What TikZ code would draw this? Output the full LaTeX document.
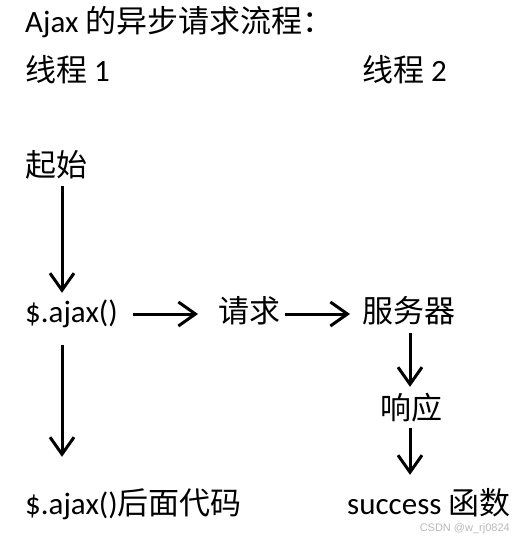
\documentclass[tikz,border=0pt]{standalone}
\usepackage{fontspec}
\setmainfont{Carlito}
\newfontfamily\cjk{Noto Sans CJK SC}
\newfontfamily\wm{Liberation Sans}
\usetikzlibrary{arrows.meta}
\begin{document}
\begin{tikzpicture}[x=1pt,y=-1pt,
  lbl/.style={anchor=base west,inner sep=0pt,font=\fontsize{31}{36}\selectfont,text height=22pt,text depth=6pt},
  arr/.style={line width=3pt,-{Straight Barb[length=17pt,width=24pt]}}]
\useasboundingbox (0,0) rectangle (528,537);
\node[lbl] (title) at (25,33) {Ajax {\cjk 的异步请求流程：}};
\node[lbl] (t1) at (25,82) {{\cjk 线程} 1};
\node[lbl] (t2) at (362,82) {{\cjk 线程} 2};
\node[lbl] (start) at (25,177) {\cjk 起始};
\node[lbl] (ajax) at (25,322) {\$.ajax()};
\node[lbl] (req) at (218,322) {\cjk 请求};
\node[lbl] (srv) at (362,322) {\cjk 服务器};
\node[lbl] (resp) at (380,419) {\cjk 响应};
\node[lbl] (after) at (25,514) {\$.ajax(){\cjk 后面代码}};
\node[lbl] (succ) at (347,514) {success {\cjk 函数}};
\node[anchor=base east,inner sep=0pt,text=gray!55,font=\wm\fontsize{11}{13}\selectfont] (mark) at (510,531) {CSDN @w\_rj0824};
\coordinate (c1) at (62,0);
\coordinate (c2) at (410,0);
\draw[arr,shorten <=3pt,shorten >=7pt] (start.south -| c1) -- (ajax.north -| c1);
\draw[arr,shorten <=17pt,shorten >=35pt] (ajax.south -| c1) -- (after.north -| c1);
\draw[arr,shorten <=15pt,shorten >=20pt] (ajax.east) -- (req.west);
\draw[arr,shorten <=5pt,shorten >=12pt] (req.east) -- (srv.west);
\draw[arr,shorten <=5pt,shorten >=10pt] (srv.south -| c2) -- (resp.north -| c2);
\draw[arr,shorten <=3pt,shorten >=17pt] (resp.south -| c2) -- (succ.north -| c2);
\end{tikzpicture}
\end{document}
